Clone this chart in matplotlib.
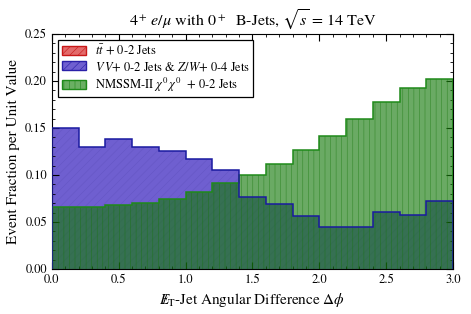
import numpy as np
import matplotlib
matplotlib.use('Agg')
import matplotlib.pyplot as plt
from matplotlib.patches import Patch
from matplotlib.ticker import MultipleLocator, FormatStrFormatter

# --- donnees (largeur de bin 0.2) ---
bords = [0.0, 0.2, 0.4, 0.6, 0.8, 1.0, 1.2, 1.4, 1.6, 1.8, 2.0, 2.2, 2.4, 2.6, 2.8, 3.0]
ttbar = [0, 0, 0, 0, 0, 0, 0, 0, 0, 0, 0, 0, 0, 0, 0]
vv = [0.150, 0.130, 0.138, 0.130, 0.126, 0.117, 0.105, 0.077, 0.069, 0.056,
      0.045, 0.045, 0.061, 0.057, 0.072]
nmssm = [0.066, 0.066, 0.068, 0.070, 0.074, 0.082, 0.091, 0.100, 0.112, 0.127,
         0.142, 0.160, 0.178, 0.193, 0.202]

labels = [r'$t\bar{t}$ + 0-2 Jets',
          r'$V\,V$+ 0-2 Jets & $Z/W$+ 0-4 Jets',
          r'NMSSM-II $\chi^0\,\chi^0$  + 0-2 Jets']

plt.rcParams['font.family'] = ['STIXGeneral', 'DejaVu Serif']
plt.rcParams['mathtext.fontset'] = 'stix'
plt.rcParams['hatch.linewidth'] = 0.4

fig = plt.figure(figsize=(4.71, 3.14), dpi=100)
ax = fig.add_axes([0.110, 0.143, 0.852, 0.749])

# remplissages
ax.stairs(vv, bords, fill=True, facecolor='#6f5fd0', edgecolor='#6556c4',
          hatch='////', linewidth=0, zorder=1)
ax.stairs(nmssm, bords, fill=True, facecolor='#167a0c', alpha=0.64,
          edgecolor='#157509', hatch='|||', linewidth=0, zorder=2)
ax.stairs(ttbar, bords, fill=True, facecolor='#e03030', alpha=0.7, linewidth=0, zorder=3)

# contours
ax.stairs(nmssm, bords, color='#1f8a1a', linewidth=1.1, zorder=4)
ax.stairs(vv, bords, color='#1a1aa0', linewidth=1.1, zorder=5)

handles = [Patch(facecolor='#e36a6a', edgecolor='#c81818', hatch='////', linewidth=1),
           Patch(facecolor='#6f5fd0', edgecolor='#2a20a8', hatch='////', linewidth=1),
           Patch(facecolor='#6aaf63', edgecolor='#1f8a1a', hatch='|||', linewidth=1)]
leg = ax.legend(handles, labels, loc='upper left', bbox_to_anchor=(0.01, 0.985),
                fontsize=9, fancybox=False, edgecolor='black', framealpha=1,
                handlelength=1.9, handleheight=0.75, borderpad=0.3, labelspacing=0.2,
                handletextpad=0.7, borderaxespad=0.2)
leg.get_frame().set_linewidth(0.9)

ax.set_xlim(0, 3.0)
ax.set_ylim(0, 0.25)
ax.xaxis.set_major_locator(MultipleLocator(0.5))
ax.xaxis.set_minor_locator(MultipleLocator(0.1))
ax.yaxis.set_major_locator(MultipleLocator(0.05))
ax.yaxis.set_minor_locator(MultipleLocator(0.01))
ax.yaxis.set_major_formatter(FormatStrFormatter('%.2f'))
ax.xaxis.set_major_formatter(FormatStrFormatter('%.1f'))
ax.tick_params(which='both', direction='in', top=True, right=True, labelsize=9)
ax.tick_params(which='major', length=5)
ax.tick_params(which='minor', length=2.5)

ax.set_title(r'$4^+\,e/\mu$ with $0^+$  B-Jets, $\sqrt{s}$ = 14 TeV', fontsize=11.5, pad=6)
ax.set_xlabel(r'$E\!\!\!/_{\mathrm{T}}$-Jet Angular Difference $\Delta\phi$', fontsize=11)
ax.set_ylabel('Event Fraction per Unit Value', fontsize=11)

fig.savefig('out.png', dpi=100)
